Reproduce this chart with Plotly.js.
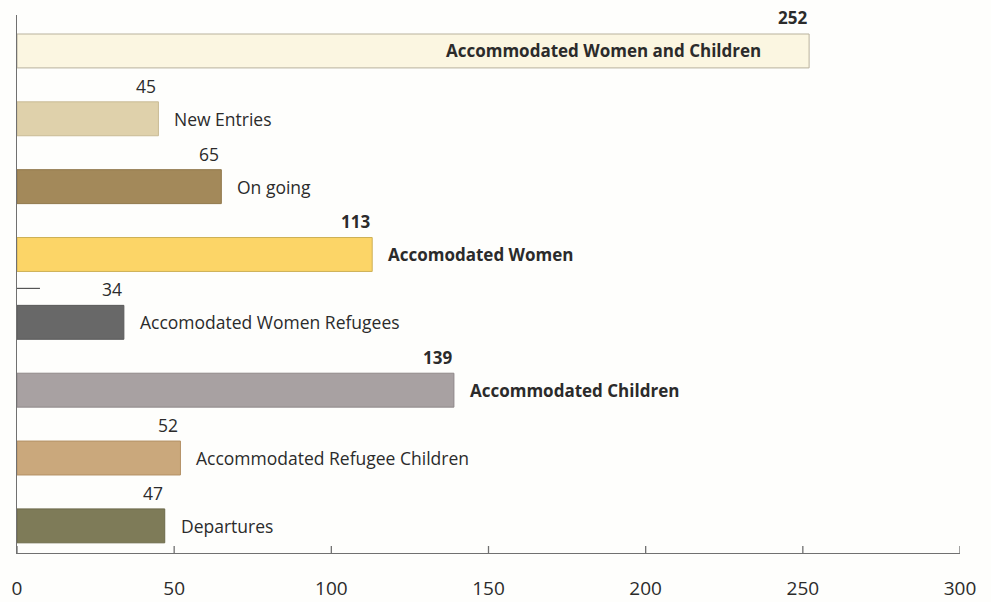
<!DOCTYPE html>
<html>
<head>
<meta charset="utf-8">
<script src="https://cdn.plot.ly/plotly-3.0.1.min.js"></script>
<style>html,body{margin:0;padding:0;background:#fff;}#chart{width:991px;height:602px;}</style>
</head>
<body>
<div id="chart"></div>
<script>
const categories = [
  "Accommodated Women and Children",
  "New Entries",
  "On going",
  "Accomodated Women",
  "Accomodated Women Refugees",
  "Accommodated Children",
  "Accommodated Refugee Children",
  "Departures"
];
const values = [252, 45, 65, 113, 34, 139, 52, 47];
const xTickVals = [0, 50, 100, 150, 200, 250, 300];
const xTickText = ["0", "50", "100", "150", "200", "250", "300"];

const barColors = ["#fbf6e1", "#dfd1ab", "#a3895a", "#fcd567", "#686868", "#a8a1a2", "#caa87c", "#7e7b58"];
const lineColors = ["#b9b29d", "#c9bb95", "#8f7649", "#cdb055", "#5a5a5a", "#8f8889", "#b39064", "#6c694a"];
const boldSet = new Set(["Accommodated Women and Children", "Accomodated Women", "Accommodated Children"]);
const FONT = "Open Sans, Lato, sans-serif";
const txtColor = "#2b2b2b";

const trace = {
  type: "bar",
  orientation: "h",
  x: values,
  y: categories,
  marker: {color: barColors, line: {color: lineColors, width: 1}},
  hoverinfo: "x+y"
};

const annotations = [];
categories.forEach((c, i) => {
  const b = boldSet.has(c);
  const fs = b ? 17 : 17.5;
  annotations.push({
    x: values[i], y: c, xref: "x", yref: "y",
    text: b ? "<b>" + values[i] + "</b>" : String(values[i]),
    showarrow: false, xanchor: "right", yanchor: "middle",
    xshift: 0, yshift: 33,
    font: {family: FONT, size: fs, color: txtColor}
  });
  const inside = (i === 0);
  annotations.push({
    x: values[i], y: c, xref: "x", yref: "y",
    text: b ? "<b>" + c + "</b>" : c,
    showarrow: false,
    xanchor: inside ? "right" : "left", yanchor: "middle",
    xshift: inside ? -46 : 14, yshift: 0,
    font: {family: FONT, size: fs, color: txtColor}
  });
});

// upward tick marks on the bottom axis, one per tick value
const tickShapes = xTickVals.map(v => ({
  type: "line", xref: "x", yref: "paper", ysizemode: "pixel", yanchor: 0,
  x0: v, x1: v, y0: 0, y1: 7,
  line: {color: "#707070", width: 1.3}, layer: "above"
}));

const layout = {
  width: 991, height: 602,
  margin: {l: 17, r: 31, t: 15, b: 49},
  paper_bgcolor: "#fefefc",
  plot_bgcolor: "#fefefc",
  showlegend: false,
  bargap: 0.5,
  xaxis: {
    range: [0, 300],
    tickvals: xTickVals, ticktext: xTickText,
    ticks: "",
    showline: true, linecolor: "#707070", linewidth: 1.3,
    showgrid: false, zeroline: false,
    tickfont: {family: FONT, size: 19, color: txtColor},
    ticklabelstandoff: 18
  },
  yaxis: {
    type: "category",
    range: [7.4, -0.53],
    showticklabels: false, ticks: "",
    showline: true, linecolor: "#707070", linewidth: 1.3,
    showgrid: false, zeroline: false
  },
  shapes: tickShapes.concat([{
    type: "line", xref: "x", yref: "y",
    x0: 0, x1: 7.3, y0: 3.5, y1: 3.5,
    line: {color: "#555", width: 1.2}
  }]),
  annotations: annotations
};

Plotly.newPlot("chart", [trace], layout, {displayModeBar: false, staticPlot: true});
</script>
</body>
</html>
